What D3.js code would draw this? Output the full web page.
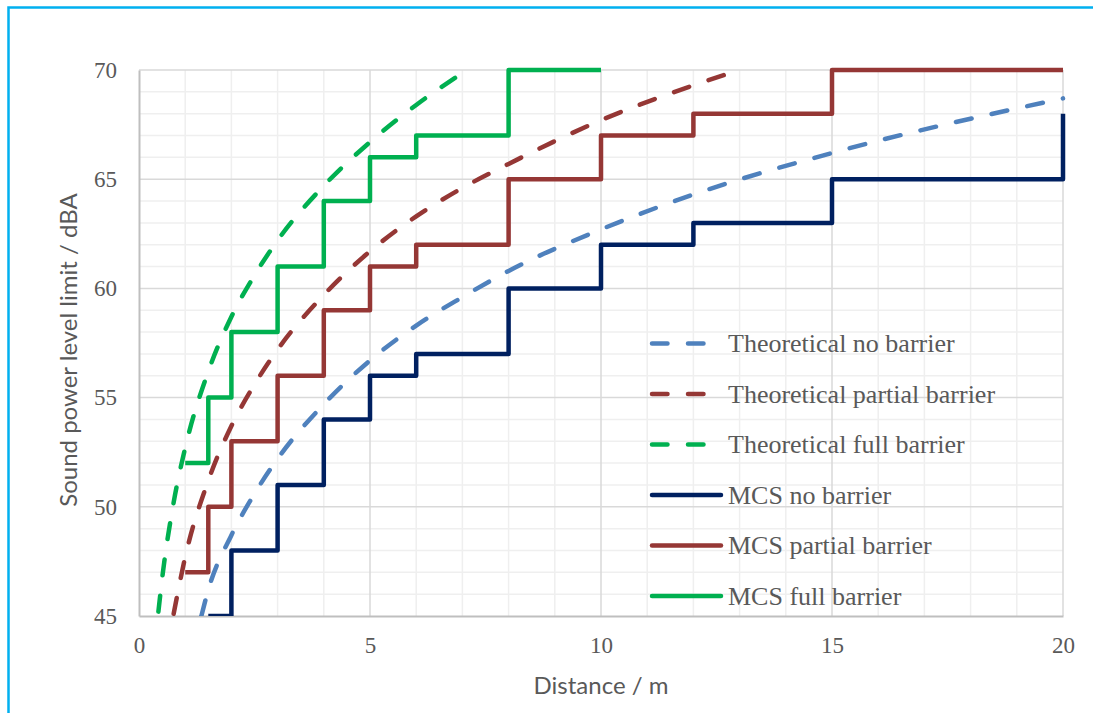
<!DOCTYPE html>
<head>
    <meta charset="utf-8">
    <script src="https://cdn.jsdelivr.net/npm/d3@7/dist/d3.min.js"></script>
    <style>
        body { margin: 0; background: #fff; }
        .tick text { font-family: "Liberation Serif", serif; font-size: 23px; fill: #595959; }
        .title { font-family: Lato, sans-serif; font-size: 24px; fill: #595959; }
        .legend text { font-family: "Liberation Serif", serif; font-size: 26px; fill: #595959; }
    </style>
</head>
<body>
<div id="chart"></div>
<script>
    // series
    var xTicks = [0, 5, 10, 15, 20];
    var yTicks = [45, 50, 55, 60, 65, 70];

    // theoretical curves (distance, level)
    var theoNoDist = [1.35, 1.5, 2, 2.5, 3, 4, 5, 6, 7, 8, 10, 12, 15, 20];
    var theoNoLvl = [45.0, 46.2, 48.7, 50.6, 52.2, 54.7, 56.7, 58.3, 59.6, 60.8, 62.7, 64.3, 66.2, 68.7];
    var theoPartDist = [0.75, 1, 1.5, 2, 2.5, 3, 4, 5, 6, 7, 8, 10, 12, 13.0];
    var theoPartLvl = [45.1, 47.7, 51.2, 53.7, 55.6, 57.2, 59.7, 61.7, 63.3, 64.6, 65.7, 67.7, 69.3, 70.0];
    var theoFullDist = [0.42, 0.5, 0.75, 1, 1.5, 2, 2.5, 3, 4, 5, 6, 7.1];
    var theoFullLvl = [45.2, 46.7, 50.2, 52.7, 56.2, 58.7, 60.6, 62.2, 64.7, 66.7, 68.4, 70.0];

    // MCS step levels (value holds from this distance until the next)
    var mcsNoDist = [1.5, 2, 3, 4, 5, 6, 8, 10, 12, 15, 20];
    var mcsNoLvl = [45, 48, 51, 54, 56, 57, 60, 62, 63, 65, 68];
    var mcsPartDist = [1, 1.5, 2, 3, 4, 5, 6, 8, 10, 12, 15, 20];
    var mcsPartLvl = [47, 50, 53, 56, 59, 61, 62, 65, 67, 68, 70, 70];
    var mcsFullDist = [1, 1.5, 2, 3, 4, 5, 6, 8, 10];
    var mcsFullLvl = [52, 55, 58, 61, 64, 66, 67, 70, 70];

    function zip(xs, ys) {
        return xs.map(function (x, i) { return {x: x, y: ys[i]}; });
    }

    var series = [
        {name: "Theoretical no barrier", color: "#4F81BD", dash: true, data: zip(theoNoDist, theoNoLvl)},
        {name: "Theoretical partial barrier", color: "#953735", dash: true, data: zip(theoPartDist, theoPartLvl)},
        {name: "Theoretical full barrier", color: "#00B050", dash: true, data: zip(theoFullDist, theoFullLvl)},
        {name: "MCS no barrier", color: "#002060", dash: false, data: zip(mcsNoDist, mcsNoLvl)},
        {name: "MCS partial barrier", color: "#953735", dash: false, data: zip(mcsPartDist, mcsPartLvl)},
        {name: "MCS full barrier", color: "#00B050", dash: false, data: zip(mcsFullDist, mcsFullLvl)}
    ];

    var W = 1093, H = 713;
    var margin = {top: 70, right: 30, bottom: 97, left: 139},
        width = 1063 - margin.left,
        height = 616 - margin.top;

    var root = d3.select("#chart").append("svg")
        .attr("width", W)
        .attr("height", H);

    // chart frame, cut off on the right and bottom
    root.append("rect")
        .attr("x", 8.5).attr("y", 7.5)
        .attr("width", W + 20).attr("height", H + 20)
        .attr("fill", "none")
        .attr("stroke", "#00B0F0")
        .attr("stroke-width", 2.5);

    var svg = root.append("g").attr("transform", "translate(" + margin.left + "," + margin.top + ")");

    var x = d3.scaleLinear().domain([0, 20]).range([0, width]);
    var y = d3.scaleLinear().domain([45, 70]).range([height, 0]);

    // minor grid
    svg.append("g").selectAll("line").data(d3.range(1, 21).filter(function (d) { return d % 5 !== 0; }))
        .enter().append("line")
        .attr("x1", function (d) { return x(d); }).attr("x2", function (d) { return x(d); })
        .attr("y1", 0).attr("y2", height)
        .attr("stroke", "#EFEFEF").attr("stroke-width", 1.5);
    svg.append("g").selectAll("line").data(d3.range(46, 70).filter(function (d) { return d % 5 !== 0; }))
        .enter().append("line")
        .attr("y1", function (d) { return y(d); }).attr("y2", function (d) { return y(d); })
        .attr("x1", 0).attr("x2", width)
        .attr("stroke", "#EFEFEF").attr("stroke-width", 1.5);

    // major grid
    svg.append("g").selectAll("line").data(xTicks.slice(1))
        .enter().append("line")
        .attr("x1", function (d) { return x(d); }).attr("x2", function (d) { return x(d); })
        .attr("y1", 0).attr("y2", height)
        .attr("stroke", "#D9D9D9").attr("stroke-width", 1.5);
    svg.append("g").selectAll("line").data(yTicks.slice(1))
        .enter().append("line")
        .attr("y1", function (d) { return y(d); }).attr("y2", function (d) { return y(d); })
        .attr("x1", 0).attr("x2", width)
        .attr("stroke", "#D9D9D9").attr("stroke-width", 1.5);

    // axes
    var xAxis = d3.axisBottom(x).tickValues(xTicks).tickSize(0).tickPadding(21);
    var yAxis = d3.axisLeft(y).tickValues(yTicks).tickSize(0).tickPadding(22);
    var gx = svg.append("g").attr("transform", "translate(0," + height + ")").call(xAxis);
    var gy = svg.append("g").call(yAxis);
    gx.select(".domain").attr("stroke", "#BFBFBF").attr("stroke-width", 2);
    gy.select(".domain").attr("stroke", "#BFBFBF").attr("stroke-width", 2);

    // lines
    svg.append("clipPath").attr("id", "plot")
        .append("rect").attr("x", -3).attr("y", -3).attr("width", width + 6).attr("height", height + 3);

    var smooth = d3.line().x(function (d) { return x(d.x); }).y(function (d) { return y(d.y); }).curve(d3.curveMonotoneX);
    var steps = d3.line().x(function (d) { return x(d.x); }).y(function (d) { return y(d.y); }).curve(d3.curveStepAfter);

    var lines = svg.append("g").attr("clip-path", "url(#plot)");
    series.forEach(function (s) {
        lines.append("path")
            .datum(s.data)
            .attr("d", s.dash ? smooth : steps)
            .attr("fill", "none")
            .attr("stroke", s.color)
            .attr("stroke-width", 4.5)
            .attr("stroke-linecap", s.dash ? "round" : "butt")
            .attr("stroke-linejoin", "round")
            .attr("stroke-dasharray", s.dash ? "16 20.5" : null);
    });

    // legend
    var legend = root.append("g").attr("class", "legend")
        .selectAll("g").data(series).enter().append("g")
        .attr("transform", function (d, i) { return "translate(650," + (343.5 + i * 50.5) + ")"; });
    legend.append("line")
        .attr("x1", 2).attr("x2", function (d) { return d.dash ? 55 : 71; })
        .attr("y1", 0).attr("y2", 0)
        .attr("stroke", function (d) { return d.color; })
        .attr("stroke-width", 4.5)
        .attr("stroke-linecap", "round")
        .attr("stroke-dasharray", function (d) { return d.dash ? "15.5 20.5" : null; });
    legend.append("text")
        .attr("x", 78).attr("y", 0).attr("dy", "0.33em")
        .text(function (d) { return d.name; });

    // axis titles
    root.append("text").attr("class", "title")
        .attr("x", margin.left + width / 2).attr("y", 694)
        .attr("text-anchor", "middle")
        .text("Distance / m");
    root.append("text").attr("class", "title")
        .attr("transform", "translate(77," + (margin.top + height / 2 + 7) + ") rotate(-90)")
        .attr("text-anchor", "middle")
        .text("Sound power level limit / dBA");
</script>
</body>
</html>
